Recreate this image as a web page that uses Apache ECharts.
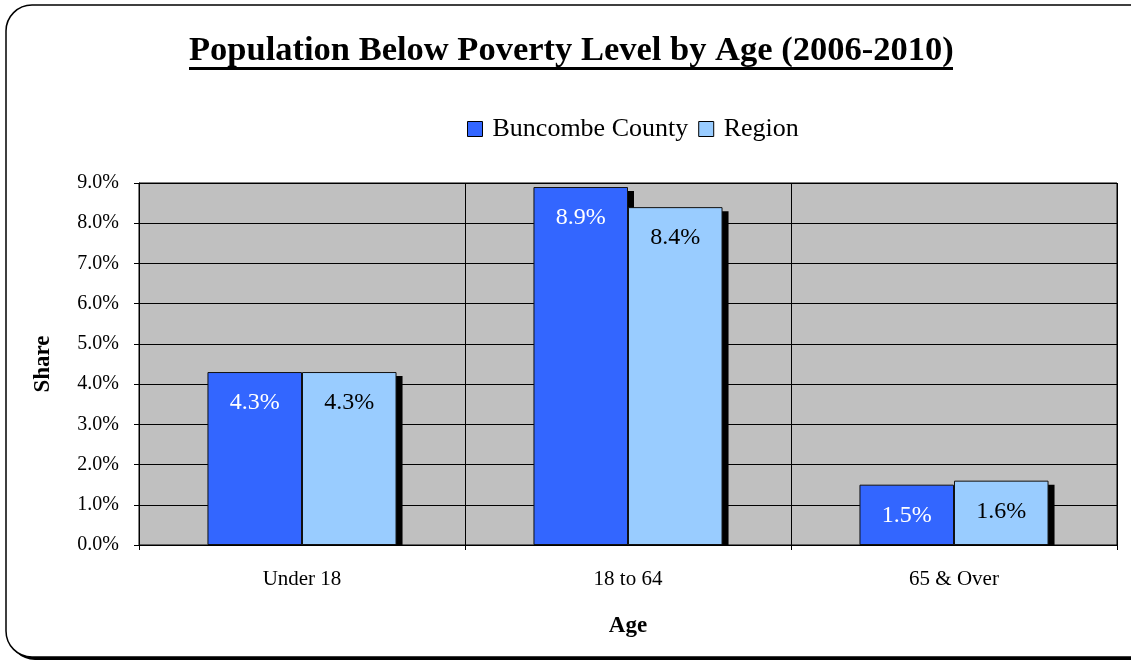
<!DOCTYPE html>
<html>
<head>
<meta charset="utf-8">
<script src="https://cdn.jsdelivr.net/npm/echarts@6/dist/echarts.min.js"></script>
<style>
html,body{margin:0;padding:0;background:#fff;}
#c{width:1131px;height:664px;}
</style>
</head>
<body>
<div id="c"></div>
<script>
const categories = ['Under 18', '18 to 64', '65 & Over'];
const buncombe = [4.3, 8.9, 1.5];
const region = [4.3, 8.4, 1.6];
const seriesNames = ['Buncombe County', 'Region'];
const titleText = 'Population Below Poverty Level by Age (2006-2010)';

const GAP = 0.42;
const FONT = '"Liberation Serif", "Times New Roman", serif';

const chart = echarts.init(document.getElementById('c'));

function shadowRenderer(idx) {
  return function (params, api) {
    const cat = api.value(0), val = api.value(1);
    const top = api.coord([cat, val]);
    const base = api.coord([cat, 0]);
    const band = api.size([1, 0])[0];
    const bw = band * (1 - GAP) / 2;
    const x0 = top[0] - bw + idx * bw;
    return {
      type: 'rect',
      shape: { x: x0 + 6, y: top[1] + 4, width: bw, height: Math.max(0, base[1] - top[1] - 4) },
      style: { fill: '#000' }
    };
  };
}

const labelCfg = (color) => ({
  show: true,
  position: 'insideTop',
  distance: 19,
  color: color,
  fontFamily: FONT,
  fontSize: 24,
  formatter: (p) => p.value.toFixed(1) + '%'
});

chart.setOption({
  animation: false,
  backgroundColor: '#fff',
  textStyle: { fontFamily: FONT },
  graphic: [
    {
      type: 'rect', z: -11,
      shape: { x: 9, y: 8, width: 1160, height: 652, r: 26 },
      style: { fill: '#000' }
    },
    {
      type: 'rect', z: -10,
      shape: { x: 6, y: 5, width: 1160, height: 652, r: 26 },
      style: { fill: '#fff', stroke: '#000', lineWidth: 1.5 }
    },
    {
      type: 'text', z: 5, left: 189, top: 34,
      style: { text: titleText, font: 'bold 34.5px ' + FONT, fill: '#000' }
    },
    {
      type: 'rect', z: 5,
      shape: { x: 189, y: 67, width: 764, height: 3 },
      style: { fill: '#000' }
    }
  ],
  legend: {
    data: seriesNames,
    top: 111,
    left: 462,
    itemWidth: 15,
    itemHeight: 15,
    itemGap: 10,
    icon: 'rect',
    textStyle: { fontFamily: FONT, fontSize: 26, color: '#000', padding: [0, 0, 0, 5] },
    itemStyle: { borderColor: '#000', borderWidth: 1 }
  },
  grid: {
    left: 139, right: 14, top: 183, bottom: 119,
    show: true,
    backgroundColor: '#C0C0C0',
    borderColor: '#000',
    borderWidth: 1
  },
  xAxis: {
    type: 'category',
    data: categories,
    name: 'Age',
    nameLocation: 'middle',
    nameGap: 70,
    nameTextStyle: { fontFamily: FONT, fontWeight: 'bold', fontSize: 23, color: '#000' },
    axisLine: { lineStyle: { color: '#000', width: 1 } },
    axisTick: { show: true, length: 5, lineStyle: { color: '#000' } },
    axisLabel: { fontFamily: FONT, fontSize: 21, color: '#000', margin: 24 },
    splitLine: { show: true, lineStyle: { color: '#000', width: 1 } }
  },
  yAxis: {
    type: 'value',
    min: 0, max: 9, interval: 1,
    name: 'Share',
    nameLocation: 'middle',
    nameGap: 84,
    nameTextStyle: { fontFamily: FONT, fontWeight: 'bold', fontSize: 23, color: '#000' },
    axisLine: { show: true, lineStyle: { color: '#000' } },
    axisTick: { show: true, length: 5, lineStyle: { color: '#000' } },
    axisLabel: { fontFamily: FONT, fontSize: 20, color: '#000', margin: 20, formatter: (v) => v.toFixed(1) + '%' },
    splitLine: { show: true, lineStyle: { color: '#000', width: 1 } }
  },
  series: [
    {
      type: 'custom', z: 1, silent: true,
      renderItem: shadowRenderer(0),
      data: buncombe.map((v, i) => [i, v])
    },
    {
      type: 'custom', z: 1, silent: true,
      renderItem: shadowRenderer(1),
      data: region.map((v, i) => [i, v])
    },
    {
      name: seriesNames[0], type: 'bar', z: 3,
      data: buncombe,
      barGap: '0%', barCategoryGap: (GAP * 100) + '%',
      itemStyle: { color: '#3366FF', borderColor: '#111', borderWidth: 1 },
      label: labelCfg('#fff')
    },
    {
      name: seriesNames[1], type: 'bar', z: 3,
      data: region,
      barGap: '0%', barCategoryGap: (GAP * 100) + '%',
      itemStyle: { color: '#99CCFF', borderColor: '#111', borderWidth: 1 },
      label: labelCfg('#000')
    }
  ]
});
</script>
</body>
</html>
